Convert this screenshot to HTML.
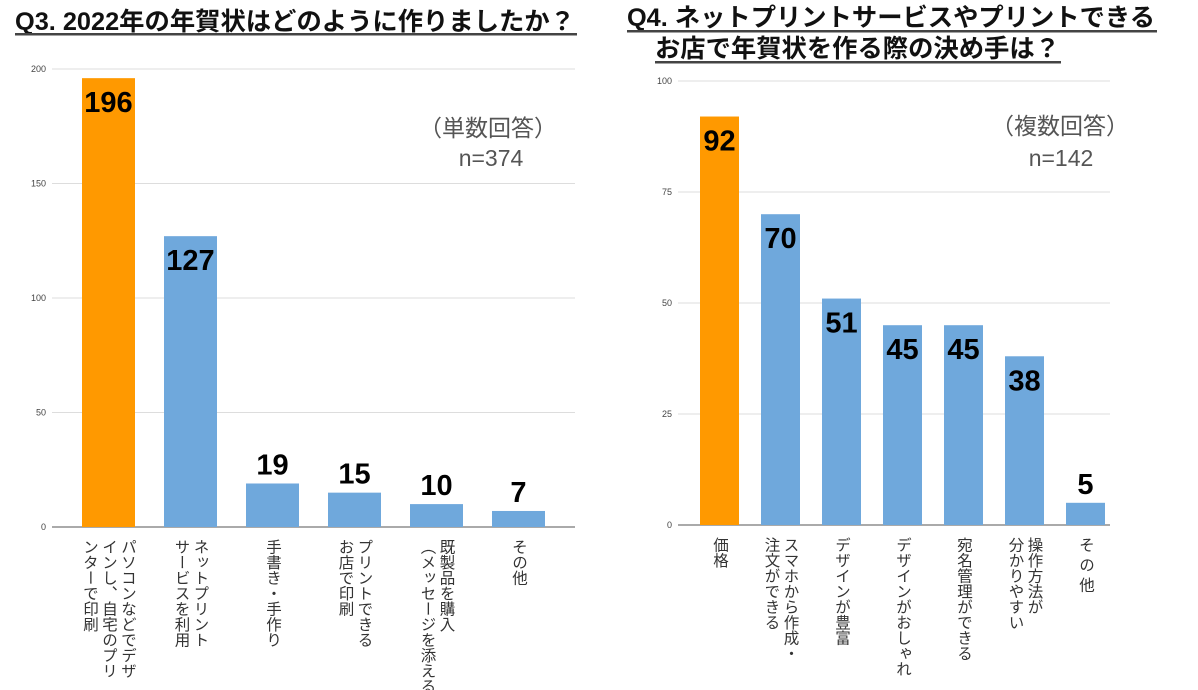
<!DOCTYPE html>
<html><head><meta charset="utf-8"><style>
body{margin:0;width:1198px;height:690px;background:#fff;overflow:hidden}
svg{display:block}
text{font-family:"Liberation Sans","Noto Sans CJK JP",sans-serif}
</style></head><body>
<svg id="s" width="1198" height="690">
<text x="15" y="30" font-size="25" font-weight="bold" fill="#111" textLength="560" lengthAdjust="spacingAndGlyphs">Q3. 2022年の年賀状はどのように作りましたか？</text>
<rect x="15" y="33" width="562" height="2.5" fill="#444"/>
<text x="627" y="26" font-size="25" font-weight="bold" fill="#111" textLength="528" lengthAdjust="spacingAndGlyphs">Q4. ネットプリントサービスやプリントできる</text>
<rect x="627" y="30" width="530" height="2.5" fill="#444"/>
<text x="655" y="57" font-size="25" font-weight="bold" fill="#111" textLength="405" lengthAdjust="spacingAndGlyphs">お店で年賀状を作る際の決め手は？</text>
<rect x="655" y="61" width="406" height="2.5" fill="#444"/>
<text x="488" y="136" font-size="23" fill="#555" text-anchor="middle">（単数回答）</text>
<text x="491" y="166" font-size="23" fill="#555" text-anchor="middle">n=374</text>
<text x="1060" y="134" font-size="23" fill="#555" text-anchor="middle">（複数回答）</text>
<text x="1061" y="166" font-size="23" fill="#555" text-anchor="middle">n=142</text>
</svg>
<script>
const q3Cats=["パソコンなどでデザ|インし、自宅のプリ|ンターで印刷","ネットプリント|サービスを利用","手書き・手作り","プリントできる|お店で印刷","既製品を購入|（メッセージを添える）","その他"];
const q3Vals=[196,127,19,15,10,7];
const q3Ticks=[0,50,100,150,200];
const q4Cats=["価格","スマホから作成・|注文ができる","デザインが豊富","デザインがおしゃれ","宛名管理ができる","操作方法が|分かりやすい","そ の 他"];
const q4Vals=[92,70,51,45,45,38,5];
const q4Ticks=[0,25,50,75,100];
const NS="http://www.w3.org/2000/svg";
const svg=document.getElementById('s');
function mk(t,a,txt){const e=document.createElementNS(NS,t);for(const k in a)e.setAttribute(k,a[k]);if(txt!=null)e.textContent=txt;svg.appendChild(e);return e;}
function draw(cfg){
 const y=v=>cfg.y0-(v/cfg.max)*(cfg.y0-cfg.yTop);
 cfg.ticks.forEach(t=>{
  const g=mk('line',{x1:cfg.gx1,x2:cfg.gx2,y1:y(t),y2:y(t),stroke:t===0?'#555':'#ddd','stroke-width':1});
  
  
  const l=mk('text',{x:cfg.gx1-6,y:y(t)+3,'font-size':9,fill:'#444','text-anchor':'end'},t);
  
  
 });
 cfg.vals.forEach((v,i)=>{
  const cx=cfg.c0+i*cfg.step, top=y(v), h=cfg.y0-top;
  const r=mk('rect',{x:cx-cfg.bw/2,y:top,width:cfg.bw,height:h,fill:i===0?'#ff9900':'#6fa8dc'});
  
  
  const ly=h>55?top+34:top-9;
  const t=mk('text',{x:cx,y:ly,'font-size':29,'font-weight':'bold',fill:'#000','text-anchor':'middle'},v);
  
  
  const lines=cfg.cats[i].split('|');
  const n=lines.length, lh=19;
  lines.forEach((s,j)=>{
   const x=cx+((n-1)/2-j)*lh;
   const tt=mk('text',{x:x,y:cfg.y0+12,'font-size':15.5,fill:'#333','writing-mode':'vertical-rl'},s);
   
   
  });
 });
}
draw({id:'q3',cats:q3Cats,vals:q3Vals,ticks:q3Ticks,max:200,y0:527,yTop:69,gx1:52,gx2:575,c0:108.5,step:82,bw:53});
draw({id:'q4',cats:q4Cats,vals:q4Vals,ticks:q4Ticks,max:100,y0:525,yTop:81,gx1:678,gx2:1110,c0:719.5,step:61,bw:39});
</script>
</body></html>
